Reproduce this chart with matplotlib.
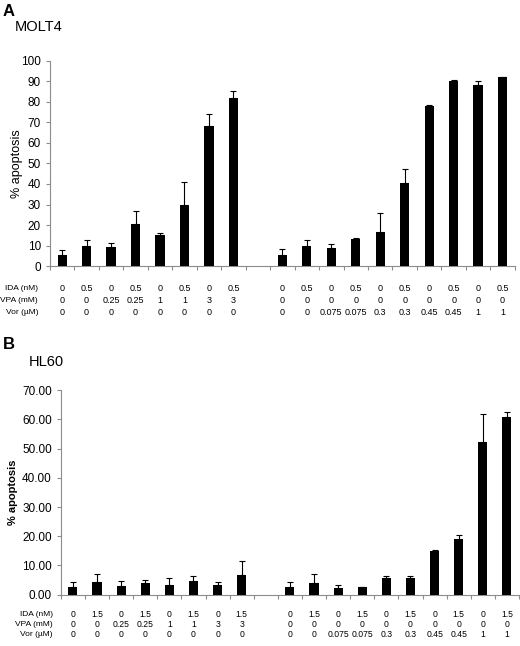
import matplotlib
matplotlib.use('Agg')
import matplotlib.pyplot as plt
import numpy as np
from matplotlib.ticker import FormatStrFormatter

plt.rcParams['font.family'] = ['Liberation Sans', 'DejaVu Sans']

# Painel A - MOLT4 (8 barras + lacuna + 10 barras)
molt4_media = [5.4, 9.8, 9.3, 20.3, 15.3, 29.8, 68.3, 81.8,
               5.4, 9.8, 8.6, 13.2, 16.6, 40.7, 78.0, 90.2, 88.0, 92.0]
molt4_erro = [2.7, 2.9, 2.1, 6.4, 1.0, 11.0, 5.7, 3.4,
              2.9, 2.9, 2.0, 0.3, 9.1, 6.8, 0.3, 0.3, 2.0, 0.2]
molt4_ida = ['0', '0.5', '0', '0.5', '0', '0.5', '0', '0.5',
             '0', '0.5', '0', '0.5', '0', '0.5', '0', '0.5', '0', '0.5']
molt4_vpa = ['0', '0', '0.25', '0.25', '1', '1', '3', '3',
             '0', '0', '0', '0', '0', '0', '0', '0', '0', '0']

# Painel B - HL60
hl60_media = [2.7, 4.2, 3.0, 3.9, 3.3, 4.7, 3.3, 6.8,
              2.6, 4.0, 2.3, 2.5, 5.8, 5.7, 15.0, 19.2, 52.1, 60.8]
hl60_erro = [1.7, 3.0, 1.7, 1.3, 2.5, 1.6, 1.1, 4.6,
             1.6, 3.0, 1.1, 0.2, 0.5, 0.7, 0.2, 1.3, 9.7, 1.9]
hl60_ida = ['0', '1.5', '0', '1.5', '0', '1.5', '0', '1.5',
            '0', '1.5', '0', '1.5', '0', '1.5', '0', '1.5', '0', '1.5']
hl60_vpa = ['0', '0', '0.25', '0.25', '1', '1', '3', '3',
            '0', '0', '0', '0', '0', '0', '0', '0', '0', '0']

vor = ['0', '0', '0', '0', '0', '0', '0', '0',
       '0', '0', '0.075', '0.075', '0.3', '0.3', '0.45', '0.45', '1', '1']
rotulos = ['IDA (nM)', 'VPA (mM)', 'Vor (µM)']

# posições: slot 8 fica vazio entre os dois grupos
pos = [i for i in range(8)] + [i for i in range(9, 19)]

CINZA = '#8c8c8c'


def painel(ax, media, erro, ida, vpa, ymax, ystep, fmt, ylab_peso, ylab_fs, linhas_y, fs_tab):
    ax.bar(pos, media, width=0.38, color='black', zorder=3)
    ax.errorbar(pos, media, yerr=[np.zeros(len(erro)), erro], fmt='none',
                ecolor='black', elinewidth=0.8, capsize=2.5, capthick=0.8, zorder=2)
    ax.set_xlim(-0.5, 18.5)
    ax.set_ylim(0, ymax)
    ax.set_yticks(np.arange(0, ymax + 0.01, ystep))
    ax.yaxis.set_major_formatter(FormatStrFormatter(fmt))
    ax.set_xticks(np.arange(-0.5, 19, 1))
    ax.set_xticklabels([])
    for s in ['top', 'right']:
        ax.spines[s].set_visible(False)
    for s in ['left', 'bottom']:
        ax.spines[s].set_color(CINZA)
        ax.spines[s].set_linewidth(0.8)
    ax.tick_params(axis='both', colors=CINZA, length=3, width=0.8, labelsize=8.5,
                   labelcolor='black')
    ax.set_ylabel('% apoptosis', fontsize=ylab_fs, fontweight=ylab_peso)
    tr = ax.get_xaxis_transform()
    for linha, valores in zip(linhas_y, [ida, vpa, vor]):
        for x, v in zip(pos, valores):
            ax.text(x, linha, v, transform=tr, ha='center', va='center', fontsize=fs_tab)


fig = plt.figure(figsize=(5.2, 6.46), dpi=100)

axA = fig.add_axes([0.096, 0.588, 0.894, 0.318])
# linhas da tabela em y = 288, 300, 312 px
painel(axA, molt4_media, molt4_erro, molt4_ida, molt4_vpa, 100, 10, '%d', 'normal', 9,
       [-0.107, -0.166, -0.224], 6.5)
axA.yaxis.set_label_coords(-0.058, 0.5)

axB = fig.add_axes([0.117, 0.0794, 0.881, 0.3166])
# linhas da tabela em y = 615, 625, 635 px
painel(axB, hl60_media, hl60_erro, hl60_ida, hl60_vpa, 70, 10, '%.2f', 'bold', 8,
       [-0.099, -0.148, -0.197], 6.2)
axB.yaxis.set_label_coords(-0.093, 0.5)

# rótulos das linhas de tratamento
for y, r in zip([288, 300, 312], rotulos):
    fig.text(38 / 520, 1 - y / 646, r, ha='right', va='center', fontsize=6)
for y, r in zip([615, 625, 635], rotulos):
    fig.text(53 / 520, 1 - y / 646, r, ha='right', va='center', fontsize=6)

fig.text(3 / 520, 1 - 12 / 646, 'A', fontsize=12, fontweight='bold', va='center')
fig.text(15 / 520, 1 - 27 / 646, 'MOLT4', fontsize=10.5, va='center')
fig.text(3 / 520, 1 - 345 / 646, 'B', fontsize=12, fontweight='bold', va='center')
fig.text(29 / 520, 1 - 362 / 646, 'HL60', fontsize=10.5, va='center')

fig.savefig('out.png', dpi=100)
plt.close(fig)
